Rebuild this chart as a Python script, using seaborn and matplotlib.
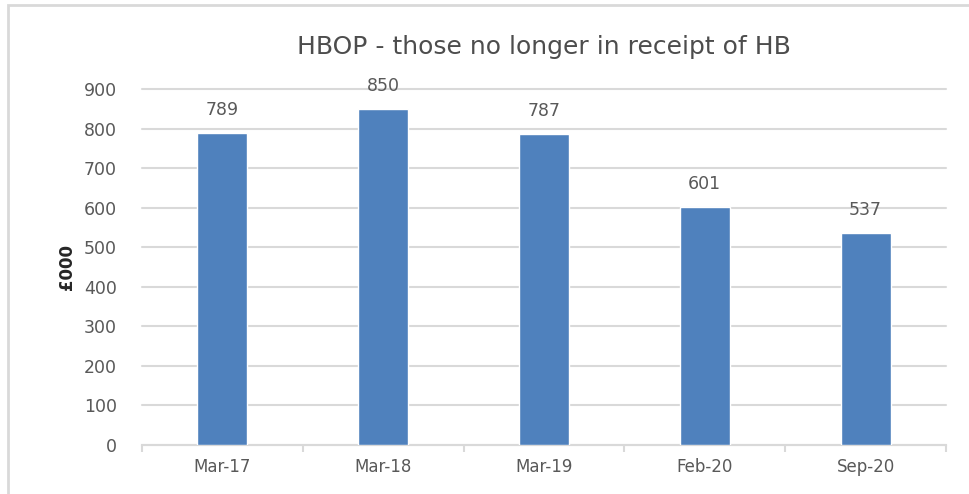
import matplotlib
matplotlib.use("Agg")
import matplotlib.pyplot as plt
import matplotlib.patches as mpatches
from matplotlib.ticker import FixedLocator
import seaborn as sns
import pandas as pd

periods = ['Mar-17', 'Mar-18', 'Mar-19', 'Feb-20', 'Sep-20']
amounts = [789, 850, 787, 601, 537]
y_ticks = [0, 100, 200, 300, 400, 500, 600, 700, 800, 900]

df = pd.DataFrame({'Period': periods, 'Amount': amounts})

sns.set_style("white")
plt.rcParams['font.family'] = ['DejaVu Sans']

grey_text = '#595959'
grid_grey = '#D9D9D9'
bar_blue = '#4F81BD'

fig = plt.figure(figsize=(9.69, 4.94), dpi=100)
ax = fig.add_axes([142 / 969, 1 - 445 / 494, (946 - 142) / 969, (445 - 89) / 494])

sns.barplot(data=df, x='Period', y='Amount', color=bar_blue, width=0.31,
            saturation=1, ax=ax, zorder=3)

ax.set_ylim(0, 900)
ax.set_xlim(-0.5, len(periods) - 0.5)
ax.set_yticks(y_ticks)
ax.yaxis.grid(True, color=grid_grey, linewidth=1.5, zorder=0)
ax.set_axisbelow(True)
for gl in ax.get_ygridlines():
    gl.set_clip_on(False)

for side in ['top', 'right', 'left']:
    ax.spines[side].set_visible(False)
ax.spines['bottom'].set_color(grid_grey)
ax.spines['bottom'].set_linewidth(1.5)

ax.tick_params(axis='y', length=0, labelsize=12.5, labelcolor=grey_text, pad=18)
ax.tick_params(axis='x', which='major', length=0, labelsize=12, labelcolor=grey_text, pad=9)
ax.xaxis.set_minor_locator(FixedLocator([i - 0.5 for i in range(len(periods) + 1)]))
ax.tick_params(axis='x', which='minor', bottom=True, length=5, width=1.5,
               color=grid_grey, direction='out')

ax.bar_label(ax.containers[0], labels=[str(v) for v in amounts], padding=10,
             fontsize=12.5, color=grey_text)

ax.set_xlabel('')
ax.set_ylabel('£000', fontsize=12, fontweight='bold', color='#262626', labelpad=6)

fig.text(544 / 969, 1 - 47 / 494, 'HBOP - those no longer in receipt of HB',
         ha='center', va='center', fontsize=18, color='#4d4d4d')

# chart frame (only top and left edges show in the reference)
frame = mpatches.Rectangle((8 / 969, -0.05), 1.1, 1 - 5 / 494 + 0.05,
                           transform=fig.transFigure, fill=False,
                           edgecolor=grid_grey, linewidth=2)
fig.patches.append(frame)

fig.savefig('out.png', dpi=100)
